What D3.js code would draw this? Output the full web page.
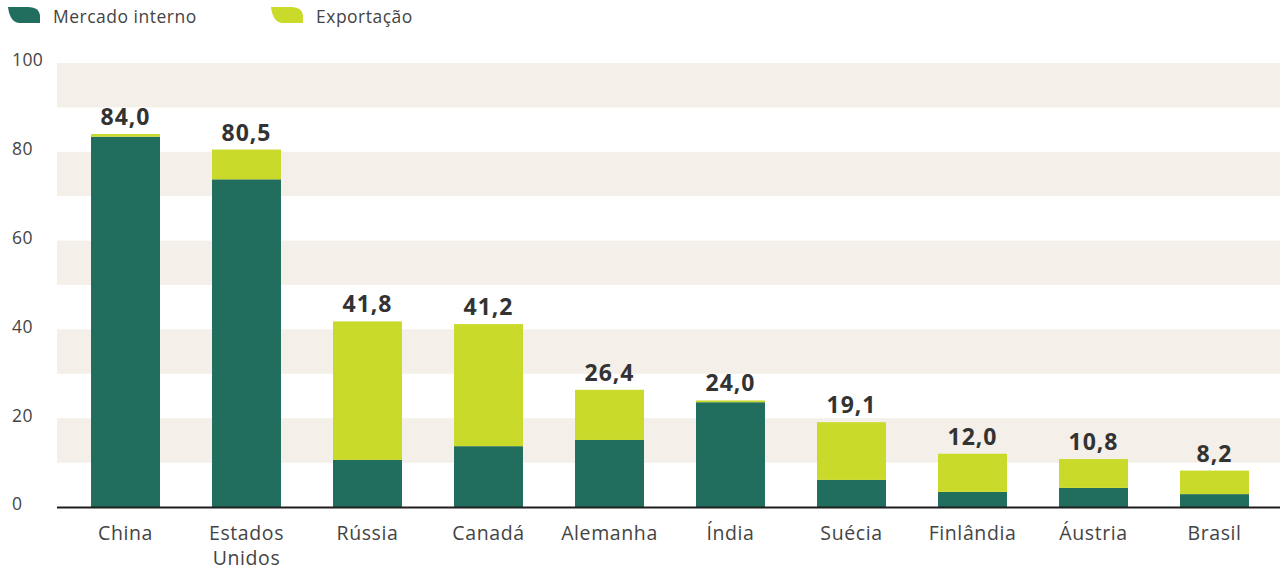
<!DOCTYPE html>
<html>
<head>
<meta charset="utf-8">
<script src="https://cdn.jsdelivr.net/npm/d3@7"></script>
<style>
  html, body { margin: 0; padding: 0; background: #ffffff; }
  svg { display: block; font-family: "Open Sans", "Noto Sans", sans-serif; }
</style>
</head>
<body>
<svg id="chart" width="1282" height="571"></svg>
<script>
// Produção de celulose por país (milhões de toneladas)
const countries = ["China", "Estados Unidos", "Rússia", "Canadá", "Alemanha", "Índia", "Suécia", "Finlândia", "Áustria", "Brasil"];
const totals = [84.0, 80.5, 41.8, 41.2, 26.4, 24.0, 19.1, 12.0, 10.8, 8.2];
const domestic = [83.4, 73.8, 10.6, 13.7, 15.1, 23.6, 6.1, 3.4, 4.3, 2.9];
const exportsShare = totals.map((t, i) => +(t - domestic[i]).toFixed(1));
const yTicks = [0, 20, 40, 60, 80, 100];
const seriesNames = ["Mercado interno", "Exportação"];
const seriesColors = ["#216e5e", "#c9da2b"];

const svg = d3.select("#chart");
const plotLeft = 57, plotRight = 1280, plotTop = 63, plotBottom = 507;

const x = d3.scaleBand().domain(countries).range([65, 1275]).paddingInner(0.43).paddingOuter(0.215);
const y = d3.scaleLinear().domain([0, 100]).range([plotBottom, plotTop]);

// alternating horizontal bands
const bands = [[90, 100], [70, 80], [50, 60], [30, 40], [10, 20]];
svg.append("g").selectAll("rect").data(bands).join("rect")
  .attr("x", plotLeft).attr("width", plotRight - plotLeft)
  .attr("y", d => y(d[1])).attr("height", d => y(d[0]) - y(d[1]))
  .attr("fill", "#f4efe8");

// y axis labels
const yAxis = d3.axisLeft(y).tickValues(yTicks).tickSize(0).tickPadding(0);
const yg = svg.append("g").attr("transform", "translate(12,0)").call(yAxis);
yg.select(".domain").remove();
yg.selectAll("text").attr("text-anchor", "start").attr("x", 0).attr("y", -3).attr("dy", "0.34em")
  .attr("fill", "#444").style("font-size", "17.5px").style("letter-spacing", "0.4px")
  .style("font-family", "'Open Sans', sans-serif");

// stacked bars
const stackData = countries.map((c, i) => ({ country: c, interno: domestic[i], exportacao: exportsShare[i] }));
const stack = d3.stack().keys(["interno", "exportacao"])(stackData);
svg.append("g").selectAll("g").data(stack).join("g")
  .attr("fill", (d, i) => seriesColors[i])
  .selectAll("rect").data(d => d).join("rect")
  .attr("x", d => x(d.data.country))
  .attr("width", x.bandwidth())
  .attr("y", d => y(d[1]))
  .attr("height", d => y(d[0]) - y(d[1]));

// total value labels
svg.append("g").selectAll("text").data(countries).join("text")
  .attr("x", d => x(d) + x.bandwidth() / 2)
  .attr("y", (d, i) => y(totals[i]) - 9)
  .attr("text-anchor", "middle")
  .attr("fill", "#333")
  .style("font-size", "23px").style("font-weight", "bold").style("letter-spacing", "1px")
  .text((d, i) => totals[i].toFixed(1).replace(".", ","));

// baseline
svg.append("line")
  .attr("x1", plotLeft).attr("x2", plotRight)
  .attr("y1", y(0) + 0.5).attr("y2", y(0) + 0.5)
  .attr("stroke", "#1e1e1e").attr("stroke-width", 2);

// category labels
const xAxis = d3.axisBottom(x).tickSize(0).tickPadding(0);
const xg = svg.append("g").attr("transform", `translate(0,${plotBottom})`).call(xAxis);
xg.select(".domain").remove();
xg.selectAll("text").remove();
xg.selectAll(".tick").each(function(d) {
  const words = d === "Estados Unidos" ? ["Estados", "Unidos"] : [d];
  const t = d3.select(this).append("text")
    .attr("text-anchor", "middle").attr("fill", "#444")
    .style("font-size", "19.5px").style("letter-spacing", "0.6px")
    .style("font-family", "'Open Sans', sans-serif");
  words.forEach((w, k) => t.append("tspan").attr("x", 0).attr("y", 33 + k * 24.5).text(w));
});

// legend
const leaf = "M0,0 L20,0 Q32,0 32,10 L32,16 L12,16 Q2,16 0,0 Z";
const legendPos = [8, 271];
const lg = svg.append("g").selectAll("g").data(seriesNames).join("g")
  .attr("transform", (d, i) => `translate(${legendPos[i]},7)`);
lg.append("path").attr("d", leaf).attr("fill", (d, i) => seriesColors[i]);
lg.append("text").attr("x", 45).attr("y", 16)
  .attr("fill", "#444").style("font-size", "17.5px").style("letter-spacing", "0.5px")
  .text(d => d);
</script>
</body>
</html>
